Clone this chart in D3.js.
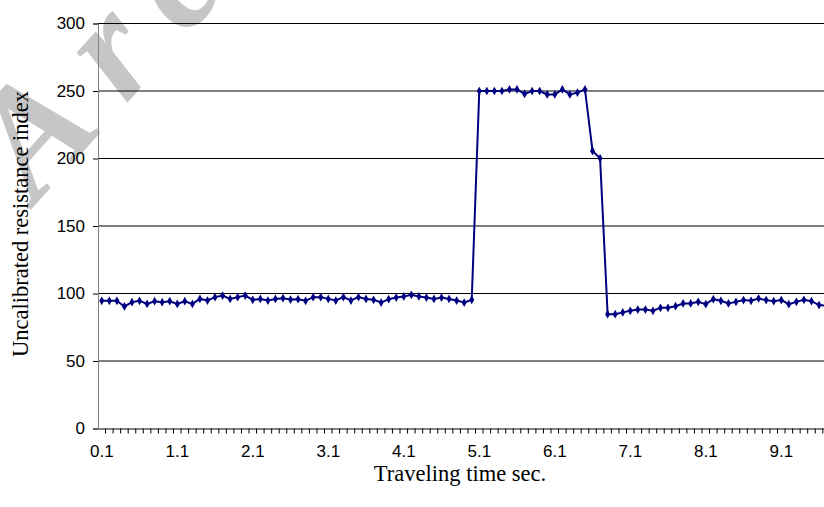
<!DOCTYPE html>
<html>
<head>
<meta charset="utf-8">
<script src="https://cdn.jsdelivr.net/npm/d3@7"></script>
<style>
	body { margin: 0; background: #fff; }
	svg { display: block; }
</style>
</head>
<body>
<div id="canvas"></div>
<script>
// data
const categories = [
	"0.1","0.2","0.3","0.4","0.5","0.6","0.7","0.8","0.9","1.0",
	"1.1","1.2","1.3","1.4","1.5","1.6","1.7","1.8","1.9","2.0",
	"2.1","2.2","2.3","2.4","2.5","2.6","2.7","2.8","2.9","3.0",
	"3.1","3.2","3.3","3.4","3.5","3.6","3.7","3.8","3.9","4.0",
	"4.1","4.2","4.3","4.4","4.5","4.6","4.7","4.8","4.9","5.0",
	"5.1","5.2","5.3","5.4","5.5","5.6","5.7","5.8","5.9","6.0",
	"6.1","6.2","6.3","6.4","6.5","6.6","6.7","6.8","6.9","7.0",
	"7.1","7.2","7.3","7.4","7.5","7.6","7.7","7.8","7.9","8.0",
	"8.1","8.2","8.3","8.4","8.5","8.6","8.7","8.8","8.9","9.0",
	"9.1","9.2","9.3","9.4","9.5","9.6","9.7","9.8","9.9","10.0"
];
const resistance = [
	94.6, 94.6, 94.6, 90.4, 93.6, 94.6, 92.3, 94.3, 93.6, 94.3,
	92.3, 94.3, 92.3, 96, 94.8, 97.3, 98.5, 96, 97.3, 98.5,
	95.3, 96, 94.8, 96, 96.5, 95.5, 95.8, 94.6, 97.3, 97.3,
	96, 94.8, 97.3, 94.8, 97.3, 96, 95.3, 93.3, 95.8, 97,
	97.8, 99, 97.8, 97, 96, 97, 96, 94.8, 93.3, 95.3,
	250, 250, 250, 250, 251.2, 251.2, 247.8, 250, 250, 247.5,
	247.5, 251.2, 247.5, 248.8, 251.2, 205.6, 200.1, 84.7, 84.7, 86,
	87.2, 88.1, 88.1, 87.2, 89.4, 89.4, 90.6, 92.6, 92.6, 93.8,
	92.1, 95.8, 94.6, 92.6, 93.8, 95.1, 94.6, 96.3, 95.1, 94.3,
	95.1, 92.1, 93.8, 95.3, 94.3, 91.4, 91
];
const yTicks = [0, 50, 100, 150, 200, 250, 300];
const xLabels = ["0.1","1.1","2.1","3.1","4.1","5.1","6.1","7.1","8.1","9.1"];

const width = 824;
const height = 507;
const plotLeft = 98, plotTop = 23.5, plotBottom = 428.5;
const plotRight = plotLeft + categories.length * 7.55;

const svg = d3.select("#canvas")
	.append("svg")
	.attr("width", width)
	.attr("height", height);

// faint watermark behind the chart
svg.append("text")
	.attr("transform", "translate(36,204) rotate(-48)")
	.attr("font-family", "Liberation Serif")
	.attr("font-style", "italic")
	.attr("font-weight", "bold")
	.attr("font-size", 155)
	.attr("letter-spacing", 30)
	.attr("fill", "#c6c6c6")
	.text("Archive");

// scales
const xScale = d3.scaleBand()
	.domain(categories)
	.range([plotLeft, plotRight])
	.padding(0);

const yScale = d3.scaleLinear()
	.domain([0, 300])
	.range([plotBottom, plotTop]);

const xCenter = d => xScale(d) + xScale.bandwidth() / 2;

// gridlines
svg.append("g")
	.selectAll("line")
	.data(yTicks.filter(d => d > 0))
	.enter()
	.append("line")
	.attr("x1", plotLeft)
	.attr("x2", plotRight)
	.attr("y1", d => yScale(d))
	.attr("y2", d => yScale(d))
	.attr("stroke", "#000")
	.attr("stroke-width", 1);

// y axis
const yAxis = d3.axisLeft(yScale)
	.tickValues(yTicks)
	.tickSize(5)
	.tickPadding(8);

svg.append("g")
	.attr("transform", `translate(${plotLeft},0)`)
	.call(yAxis)
	.call(g => g.select(".domain").attr("stroke", "#808080"))
	.call(g => g.selectAll(".tick line").attr("stroke", "#000"))
	.call(g => g.selectAll("text")
		.style("font-family", "Liberation Sans")
		.style("font-size", "17px")
		.attr("fill", "#000"));

// x axis: minor ticks on category boundaries, labels every 10
const xAxis = d3.axisBottom(xScale)
	.tickValues(categories)
	.tickSize(5)
	.tickSizeOuter(0)
	.tickFormat(d => xLabels.includes(d) ? d : "");

svg.append("g")
	.attr("transform", `translate(0,${plotBottom})`)
	.call(xAxis)
	.call(g => g.select(".domain").attr("stroke", "#000"))
	.call(g => g.selectAll(".tick line")
		.attr("transform", `translate(${xScale.bandwidth() / 2},0)`)
		.attr("stroke", "#000"))
	.call(g => g.selectAll("text")
		.attr("y", 16)
		.style("font-family", "Liberation Sans")
		.style("font-size", "17px")
		.attr("fill", "#000"));

// data line
const line = d3.line()
	.x((d, i) => xCenter(categories[i]))
	.y(d => yScale(d));

svg.append("path")
	.datum(resistance)
	.attr("fill", "none")
	.attr("stroke", "#000080")
	.attr("stroke-width", 2)
	.attr("d", line);

svg.append("g")
	.selectAll("path")
	.data(resistance)
	.enter()
	.append("path")
	.attr("d", d3.symbol().type(d3.symbolDiamond).size(22))
	.attr("transform", (d, i) => `translate(${xCenter(categories[i])},${yScale(d)})`)
	.attr("fill", "#000080");

// axis titles
svg.append("text")
	.attr("transform", `translate(28,224) rotate(-90)`)
	.attr("text-anchor", "middle")
	.style("font-family", "Liberation Serif")
	.style("font-size", "22.5px")
	.text("Uncalibrated resistance index");

svg.append("text")
	.attr("x", 460)
	.attr("y", 481)
	.attr("text-anchor", "middle")
	.style("font-family", "Liberation Serif")
	.style("font-size", "22.5px")
	.text("Traveling time sec.");
</script>
</body>
</html>
